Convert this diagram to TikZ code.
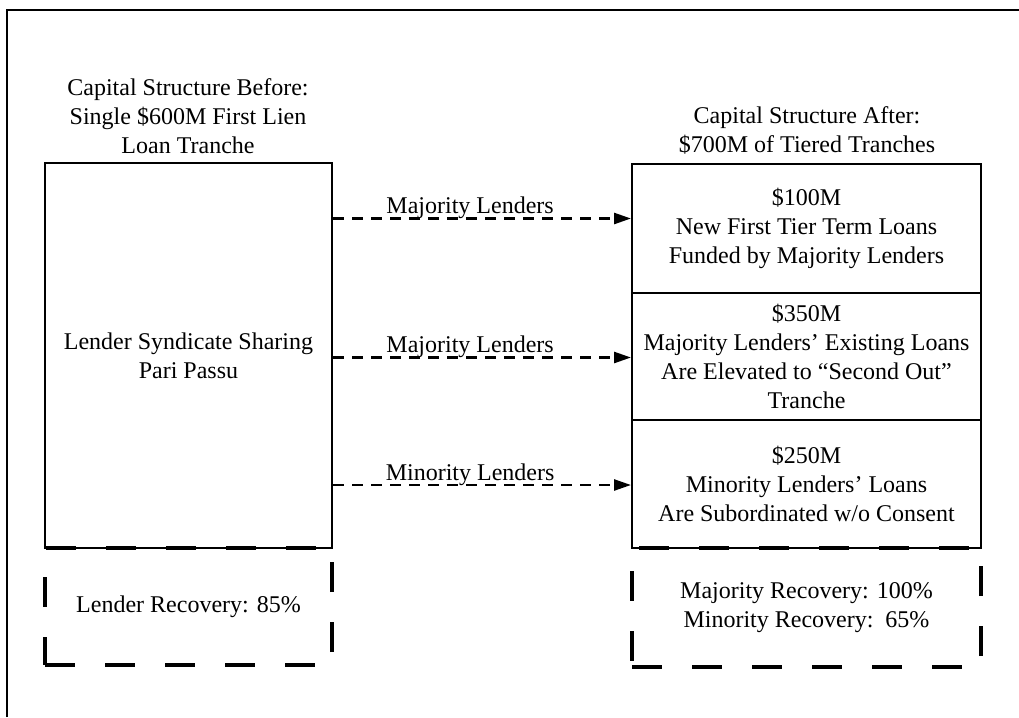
\documentclass[tikz,border=0pt]{standalone}
\usepackage{fontspec}
\setmainfont{Liberation Serif}
\usetikzlibrary{arrows.meta}

\begin{document}
\begin{tikzpicture}[
    x=1pt,
    y=-1pt,
    box/.style={
      rectangle,
      draw=black,
      line width=2pt,
      align=center,
      inner sep=0pt,
      font=\fontsize{24}{29}\selectfont
    },
    recovery/.style={
      box,
      line width=4pt,
      dash pattern=on 30pt off 30pt
    },
    title/.style={
      align=center,
      inner sep=0pt,
      font=\fontsize{24}{29}\selectfont
    },
    flow/.style={
      -{Triangle[length=17pt,width=11pt]},
      line width=2.5pt,
      dash pattern=on 11pt off 8pt
    },
    flowlabel/.style={
      anchor=base,
      pos=0.46,
      yshift=5pt,
      font=\fontsize{24}{29}\selectfont
    }
]

\useasboundingbox (0,0) rectangle (1019,717);

% frame (only top and left edge are inside the picture)
\draw[line width=2pt] (7,717) -- (7,10) -- (1019,10);

% before
\node[title] (before) at (188,116) {Capital Structure Before:\\Single \$600M First Lien\\Loan Tranche};
\node[box, minimum width=287pt, minimum height=385pt] (synd) at (188.5,355.5) {Lender Syndicate Sharing\\Pari Passu};
\node[recovery, minimum width=287pt, minimum height=117pt] (lrec) at (188.5,606.5) {Lender Recovery: 85\%};

% after
\node[title] (after) at (807,130) {Capital Structure After:\\\$700M of Tiered Tranches};
\node[box, minimum width=349pt, minimum height=129pt] (first) at (806.5,228.5) {\$100M\\New First Tier Term Loans\\Funded by Majority Lenders};
\node[box, minimum width=349pt, minimum height=127pt] (second) at (806.5,356.5) {\$350M\\Majority Lenders' Existing Loans\\Are Elevated to ``Second Out''\\Tranche};
\node[box, minimum width=349pt, minimum height=128pt] (sub) at (806.5,484) {\$250M\\Minority Lenders' Loans\\Are Subordinated w/o Consent};
\node[recovery, minimum width=349pt, minimum height=119pt] (rrec) at (806.5,607.5) {Majority Recovery: 100\%\\Minority Recovery:\ \ 65\%};

% arrows
\coordinate (m1) at ([yshift=10pt]first.west);
\coordinate (m2) at ([yshift=-1pt]second.west);
\coordinate (m3) at ([yshift=-1pt]sub.west);

\draw[flow] (synd.east |- m1) -- (m1) node[flowlabel] {Majority Lenders};
\draw[flow] (synd.east |- m2) -- (m2) node[flowlabel] {Majority Lenders};
\draw[flow] (synd.east |- m3) -- (m3) node[flowlabel] {Minority Lenders};

\end{tikzpicture}
\end{document}
